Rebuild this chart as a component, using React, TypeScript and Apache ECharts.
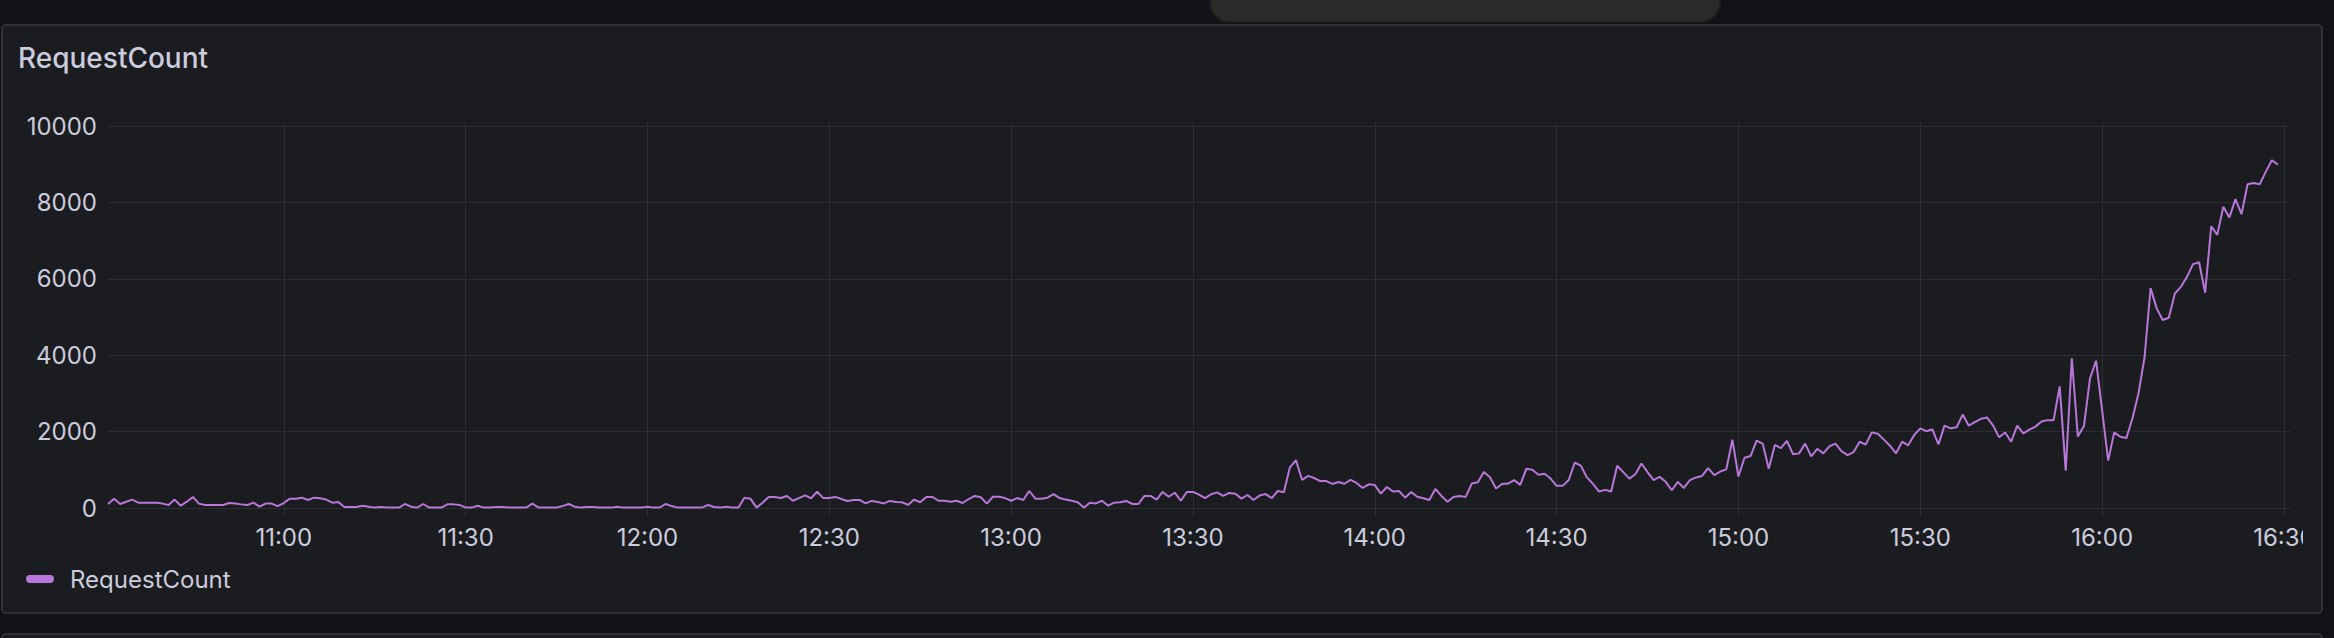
import { useEffect, useRef } from 'react';
import * as echarts from 'echarts';

const SERIES_NAME = 'RequestCount';
const START_TIME = '10:31';

// One value per minute, split by hour
const SEG_1031_1059 = [
  105, 245, 105, 165, 220, 140, 140, 140, 140, 115, 80, 220, 60, 165, 290, 115, 80, 80, 80, 80,
  130, 115, 95, 80, 140, 35, 115, 115, 50,
];
const SEG_1100_1159 = [
  130, 245, 245, 270, 210, 270, 255, 220, 140, 155, 25, 25, 25, 60, 35, 10, 25, 15, 10, 10,
  105, 35, 10, 105, 10, 10, 10, 95, 95, 80, 10, 10, 60, 10, 15, 25, 25, 15, 10, 10,
  10, 115, 15, 10, 10, 10, 50, 105, 35, 10, 25, 25, 10, 10, 10, 35, 10, 10, 10, 10,
];
const SEG_1200_1259 = [
  35, 10, 10, 105, 50, 10, 10, 10, 10, 10, 80, 25, 10, 35, 10, 10, 270, 245, 10, 140,
  290, 290, 260, 315, 190, 260, 330, 255, 430, 260, 260, 290, 235, 185, 210, 210, 120, 185, 155, 120,
  185, 155, 150, 80, 220, 150, 290, 290, 190, 190, 165, 190, 130, 235, 315, 280, 115, 295, 295, 260,
];
const SEG_1300_1359 = [
  190, 260, 210, 445, 245, 245, 270, 365, 260, 220, 190, 150, 10, 140, 120, 190, 60, 140, 150, 185,
  105, 105, 315, 315, 220, 420, 295, 400, 190, 420, 420, 350, 260, 360, 410, 315, 395, 375, 245, 340,
  210, 325, 365, 260, 445, 410, 1065, 1250, 735, 840, 785, 705, 705, 630, 680, 635, 735, 655, 525, 620,
];
const SEG_1400_1459 = [
  600, 375, 550, 430, 445, 270, 420, 295, 255, 210, 500, 315, 165, 290, 315, 290, 640, 675, 945, 805,
  510, 630, 640, 730, 605, 1025, 1000, 870, 895, 770, 580, 580, 735, 1190, 1110, 800, 630, 430, 475, 430,
  1105, 940, 770, 885, 1165, 940, 730, 815, 685, 465, 685, 525, 730, 800, 840, 1045, 860, 955, 1010, 1790,
];
const SEG_1500_1559 = [
  825, 1315, 1360, 1765, 1685, 1025, 1650, 1570, 1755, 1410, 1430, 1685, 1350, 1550, 1430, 1615, 1685, 1490, 1385, 1465,
  1735, 1660, 1980, 1945, 1790, 1630, 1430, 1735, 1640, 1910, 2085, 2010, 2060, 1665, 2155, 2085, 2115, 2445, 2155, 2245,
  2335, 2370, 2165, 1850, 1975, 1735, 2155, 1955, 2050, 2130, 2265, 2300, 2300, 3185, 975, 3920, 1875, 2145, 3390, 3855,
];
const SEG_1600_1629 = [
  2565, 1240, 1980, 1865, 1830, 2345, 3000, 3940, 5755, 5225, 4920, 4980, 5615, 5790, 6050, 6385, 6435, 5635, 7375, 7150,
  7885, 7605, 8085, 7690, 8475, 8510, 8475, 8800, 9105, 8990,
];

const X_TICK_LABELS = ['11:00', '11:30', '12:00', '12:30', '13:00', '13:30', '14:00', '14:30', '15:00', '15:30', '16:00', '16:30'];
const Y_MIN = 0;
const Y_MAX = 10000;
const Y_STEP = 2000;

function toMinutes(s: string): number {
  const [h, m] = s.split(':').map(Number);
  return h * 60 + m;
}
function fmtMinutes(v: number): string {
  const h = Math.floor(v / 60);
  const m = Math.round(v - h * 60);
  return `${h}:${String(m).padStart(2, '0')}`;
}

export default function App() {
  const ref = useRef<HTMLDivElement>(null);
  useEffect(() => {
    if (!ref.current) return;
    const chart = echarts.init(ref.current, null, { renderer: 'svg' });
    const values = [
      ...SEG_1031_1059,
      ...SEG_1100_1159,
      ...SEG_1200_1259,
      ...SEG_1300_1359,
      ...SEG_1400_1459,
      ...SEG_1500_1559,
      ...SEG_1600_1629,
    ];
    const start = toMinutes(START_TIME);
    const data = values.map((v, i) => [start + i, v]);
    const ticks = X_TICK_LABELS.map(toMinutes);
    const FONT = 'Inter, "Noto Sans", sans-serif';
    const TEXT = '#ccccdc';
    const GRID = '#2c2e33';
    const PANEL = '#1a1c20';
    const BORDER = '#2f3136';
    const xMin = start;
    const xMax = start + 360;

    chart.setOption({
      animation: false,
      backgroundColor: '#111217',
      textStyle: { fontFamily: FONT },
      title: {
        text: SERIES_NAME,
        left: 18,
        top: 44,
        padding: 0,
        textStyle: { fontSize: 28, fontWeight: 500, color: TEXT, fontFamily: FONT },
      },
      legend: {
        data: [{ name: SERIES_NAME, icon: 'path://M4,0 H24 A4,4 0 0 1 24,8 H4 A4,4 0 0 1 4,0 Z' }],
        left: 26,
        top: 567,
        padding: 0,
        itemWidth: 28,
        itemHeight: 8,
        textStyle: { fontSize: 24, color: TEXT, fontFamily: FONT, padding: [0, 0, 0, 11] },
      },
      grid: { left: 108, right: 44, top: 126, bottom: 130 },
      xAxis: [
        {
          type: 'value',
          min: xMin,
          max: xMax,
          axisLine: { show: false },
          axisTick: { show: true, customValues: ticks, length: 8, lineStyle: { color: GRID, width: 1 } },
          axisLabel: {
            customValues: ticks,
            formatter: (v: number) => fmtMinutes(v),
            fontSize: 24,
            color: TEXT,
            margin: 17,
            fontFamily: FONT,
          },
          splitLine: { show: true, lineStyle: { color: GRID, width: 1 } },
        },
        {
          type: 'value',
          position: 'top',
          min: xMin,
          max: xMax,
          axisLine: { show: false },
          axisTick: { show: true, customValues: ticks, length: 4, lineStyle: { color: GRID, width: 1 } },
          axisLabel: { show: false },
          splitLine: { show: false },
        },
      ],
      yAxis: {
        type: 'value',
        min: Y_MIN,
        max: Y_MAX,
        interval: Y_STEP,
        axisLine: { show: false },
        axisTick: { show: false },
        axisLabel: {
          fontSize: 24,
          color: TEXT,
          margin: 11,
          fontFamily: FONT,
          formatter: (v: number) => String(v),
        },
        splitLine: { show: true, lineStyle: { color: GRID, width: 1 } },
      },
      series: [
        {
          name: SERIES_NAME,
          type: 'line',
          xAxisIndex: 0,
          data,
          showSymbol: false,
          symbol: 'none',
          itemStyle: { color: '#b877d9' },
          lineStyle: { color: '#b877d9', width: 2 },
          z: 3,
        },
      ],
      graphic: [
        {
          type: 'rect',
          silent: true,
          z: -10,
          shape: { x: 2, y: 25, width: 2320, height: 588, r: 4 },
          style: { fill: PANEL, stroke: BORDER, lineWidth: 2 },
        },
        {
          type: 'rect',
          silent: true,
          z: -10,
          shape: { x: 2, y: 634, width: 2320, height: 30, r: 4 },
          style: { fill: PANEL, stroke: BORDER, lineWidth: 2 },
        },
        {
          type: 'rect',
          silent: true,
          z: -5,
          shape: { x: 1210, y: -30, width: 510, height: 52, r: 20 },
          style: { fill: '#2a2a2a', stroke: '#202020', lineWidth: 2 },
        },
        {
          type: 'rect',
          silent: true,
          z: 100,
          shape: { x: 2303, y: 518, width: 18, height: 40 },
          style: { fill: PANEL },
        },
      ],
    });
    return () => chart.dispose();
  }, []);
  return <div ref={ref} style={{ position: 'absolute', left: 0, top: 0, width: 2334, height: 638 }} />;
}
